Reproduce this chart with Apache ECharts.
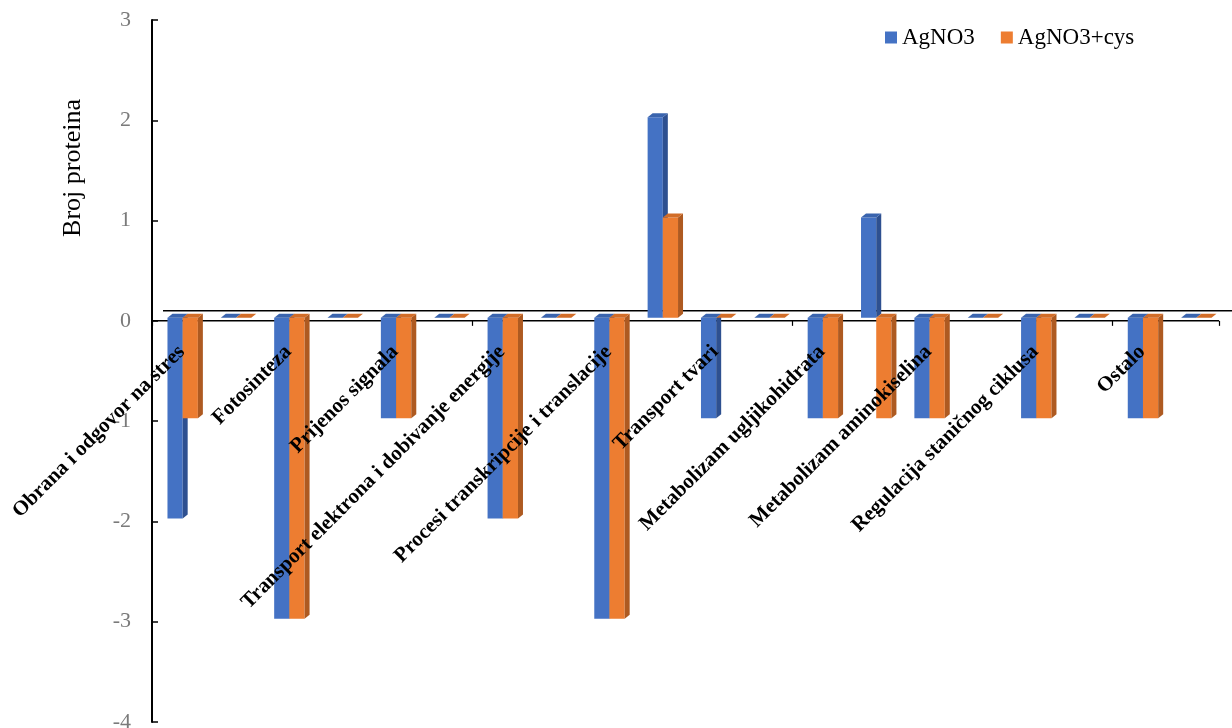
<!DOCTYPE html>
<html>
<head>
<meta charset="utf-8">
<script src="https://cdn.jsdelivr.net/npm/echarts@6/dist/echarts.min.js"></script>
<style>
html,body{margin:0;padding:0;background:#fff;}
#main{width:1232px;height:728px;}
</style>
</head>
<body>
<div id="main"></div>
<script>
const categories = ['Obrana i odgovor na stres', '', 'Fotosinteza', '', 'Prijenos signala', '',
  'Transport elektrona i dobivanje energije', '', 'Procesi transkripcije i translacije', '',
  'Transport tvari', '', 'Metabolizam ugljikohidrata', '', 'Metabolizam aminokiselina', '',
  'Regulacija staničnog ciklusa', '', 'Ostalo', ''];
const seriesNames = ['AgNO3', 'AgNO3+cys'];
const agno3 = [-2, 0, -3, 0, -1, 0, -2, 0, -3, 2, -1, 0, -1, 1, -1, 0, -1, 0, -1, 0];
const agno3cys = [-1, 0, -3, 0, -1, 0, -2, 0, -3, 1, 0, 0, -1, -1, -1, 0, -1, 0, -1, 0];
const yTicks = { min: -4, max: 3, interval: 1 };
const yAxisTitle = 'Broj proteina';

const palette = [
  { front: '#4472C4', side: '#2E5090', top: '#3A64AE' },
  { front: '#ED7D31', side: '#AE5A21', top: '#D26D28' }
];

function makeBarRender(sIdx) {
  return function (params, api) {
    const i = api.value(0), v = api.value(1);
    const p0 = api.coord([i, 0]);
    const p1 = api.coord([i, v]);
    const band = api.size([1, 0])[0];
    const w = band * 0.285;
    const sx = 4, sy = -3, dx = 5, dy = 4;
    const x0 = p0[0] + sx + (sIdx === 0 ? -w : 0);
    const ya = p0[1] + sy, yb = p1[1] + sy;
    const top = Math.min(ya, yb), bot = Math.max(ya, yb);
    const c = palette[sIdx];
    const children = [];
    if (bot - top > 0.5) {
      children.push({ type: 'rect', shape: { x: x0, y: top, width: w, height: bot - top }, style: { fill: c.front } });
      children.push({ type: 'polygon', shape: { points: [[x0 + w, top], [x0 + w + dx, top - dy], [x0 + w + dx, bot - dy], [x0 + w, bot]] }, style: { fill: c.side } });
    }
    children.push({ type: 'polygon', shape: { points: [[x0, top], [x0 + dx, top - dy], [x0 + w + dx, top - dy], [x0 + w, top]] }, style: { fill: c.top } });
    return { type: 'group', children: children };
  };
}

const chart = echarts.init(document.getElementById('main'), null, { renderer: 'canvas' });
const option = {
  animation: false,
  color: [palette[0].front, palette[1].front],
  grid: { left: 152, right: 13, top: 20, bottom: 6, containLabel: false, outerBoundsMode: 'none' },
  legend: {
    data: seriesNames,
    left: 880, top: 21,
    icon: 'rect', itemWidth: 12, itemHeight: 12, itemGap: 26,
    textStyle: { fontFamily: 'Liberation Serif', fontSize: 23, color: '#000' }
  },
  graphic: [{
    type: 'text', x: 73, y: 168, rotation: Math.PI / 2,
    style: { text: yAxisTitle, font: '26px "Liberation Serif"', fill: '#000', textAlign: 'center', textVerticalAlign: 'middle' }
  }],
  xAxis: {
    type: 'category', data: categories, boundaryGap: true, z: 1,
    axisLine: { show: true, onZero: true, lineStyle: { color: 'rgba(0,0,0,0)', width: 1 } },
    axisTick: { show: true, inside: false, length: 5, lineStyle: { color: '#000', width: 1.2 } },
    axisLabel: { show: false }
  },
  yAxis: {
    type: 'value', min: yTicks.min, max: yTicks.max, interval: yTicks.interval,
    axisLine: { show: true, lineStyle: { color: '#000', width: 2 } },
    axisTick: { show: true, inside: true, length: 6, lineStyle: { color: '#000', width: 1.5 } },
    splitLine: { show: false },
    axisLabel: { fontFamily: 'Liberation Serif', fontSize: 22, color: '#7a7a7a', margin: 21 }
  },
  series: [{
    name: 'floor', type: 'custom', z: 1, silent: true,
    data: [[0, 0]],
    encode: { x: 0, y: 1 },
    renderItem: function (params, api) {
      const cs = params.coordSys;
      const y0 = api.coord([0, 0])[1];
      return { type: 'group', children: [
        { type: 'line', shape: { x1: cs.x + 11, y1: y0 - 10, x2: cs.x + cs.width + 20, y2: y0 - 10 }, style: { stroke: '#000', lineWidth: 1.5 } },
        { type: 'line', shape: { x1: cs.x, y1: y0, x2: cs.x + cs.width, y2: y0 }, style: { stroke: '#000', lineWidth: 1.5 } }
      ] };
    }
  }, {
    name: seriesNames[0], type: 'custom', z: 2,
    itemStyle: { color: palette[0].front },
    data: agno3.map((v, i) => [i, v]),
    encode: { x: 0, y: 1 },
    renderItem: makeBarRender(0)
  }, {
    name: seriesNames[1], type: 'custom', z: 3,
    itemStyle: { color: palette[1].front },
    data: agno3cys.map((v, i) => [i, v]),
    encode: { x: 0, y: 1 },
    renderItem: makeBarRender(1)
  }, {
    name: 'categoryLabels', type: 'custom', z: 10, silent: true,
    data: categories.map((c, i) => [i, 0]),
    encode: { x: 0, y: 1 },
    renderItem: function (params, api) {
      const i = api.value(0);
      const p = api.coord([i, 0]);
      return {
        type: 'text', x: p[0] + 3, y: p[1] + 28, rotation: Math.PI / 4,
        style: { text: categories[i], font: 'bold 21px "Liberation Serif"', fill: '#000', align: 'right', verticalAlign: 'middle' }
      };
    }
  }]
};
chart.setOption(option);
</script>
</body>
</html>
